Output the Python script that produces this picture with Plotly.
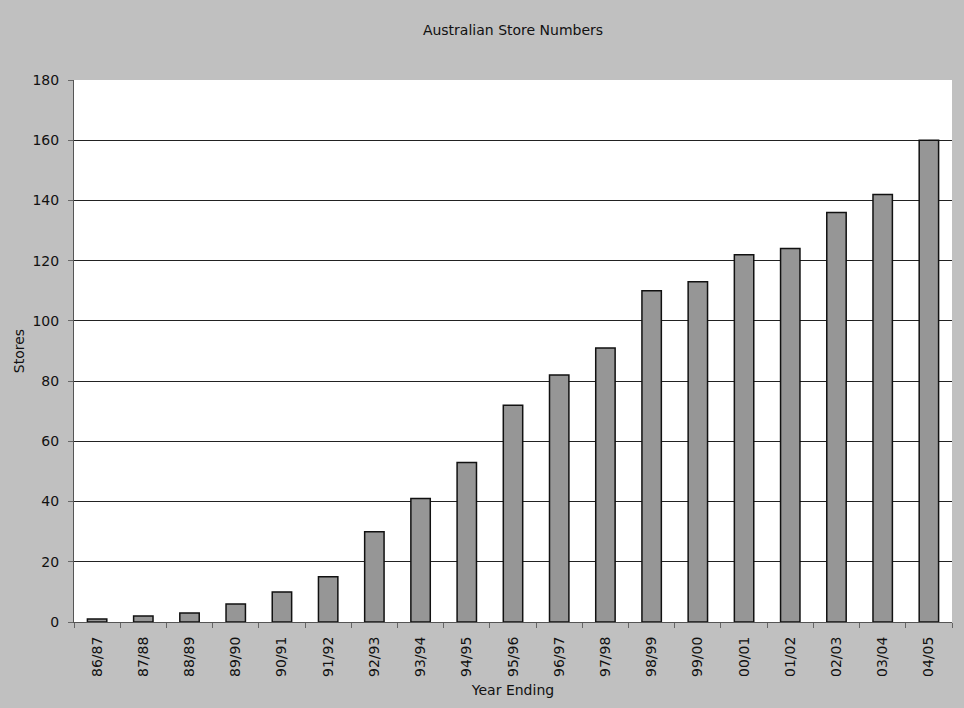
import plotly.graph_objects as go

# Financial years and store counts at year end
years = ["86/87", "87/88", "88/89", "89/90", "90/91", "91/92", "92/93", "93/94",
         "94/95", "95/96", "96/97", "97/98", "98/99", "99/00", "00/01", "01/02",
         "02/03", "03/04", "04/05"]
stores = [1, 2, 3, 6, 10, 15, 30, 41, 53, 72, 82, 91, 110, 113, 122, 124, 136, 142, 160]

y_ticks = [0, 20, 40, 60, 80, 100, 120, 140, 160, 180]

FONT = "DejaVu Sans, Verdana, sans-serif"
TEXT = "#111111"

fig = go.Figure(
    go.Bar(
        x=years,
        y=stores,
        marker=dict(color="#969696", line=dict(color="#111111", width=1.5)),
        hoverinfo="x+y",
    )
)

fig.update_layout(
    width=964,
    height=708,
    paper_bgcolor="#c0c0c0",
    plot_bgcolor="#ffffff",
    margin=dict(l=74, r=12, t=80, b=86),
    bargap=0.58,
    showlegend=False,
    font=dict(family=FONT, size=14, color=TEXT),
    title=dict(
        text="Australian Store Numbers",
        x=(74 + 952) / 2 / 964,
        xanchor="center",
        y=1 - 30 / 708,
        yanchor="middle",
        font=dict(family=FONT, size=14, color=TEXT),
    ),
)

fig.update_xaxes(
    type="category",
    tickangle=-90,
    ticks="outside",
    tickson="boundaries",
    ticklen=5,
    tickcolor="#666666",
    ticklabelstandoff=8,
    showline=True,
    linecolor="#555555",
    linewidth=1,
    showgrid=False,
    tickfont=dict(family=FONT, size=14, color=TEXT),
    title=dict(text="Year Ending", standoff=9,
               font=dict(family=FONT, size=14, color=TEXT)),
)

fig.update_yaxes(
    range=[0, 180],
    tickvals=y_ticks,
    ticks="outside",
    ticklen=5,
    tickcolor="#666666",
    ticklabelstandoff=6,
    showline=True,
    linecolor="#555555",
    linewidth=1,
    showgrid=True,
    gridcolor="#222222",
    gridwidth=1,
    zeroline=False,
    tickfont=dict(family=FONT, size=14, color=TEXT),
    title=dict(text="Stores", standoff=4,
               font=dict(family=FONT, size=14, color=TEXT)),
)

fig.write_html("out.html")
